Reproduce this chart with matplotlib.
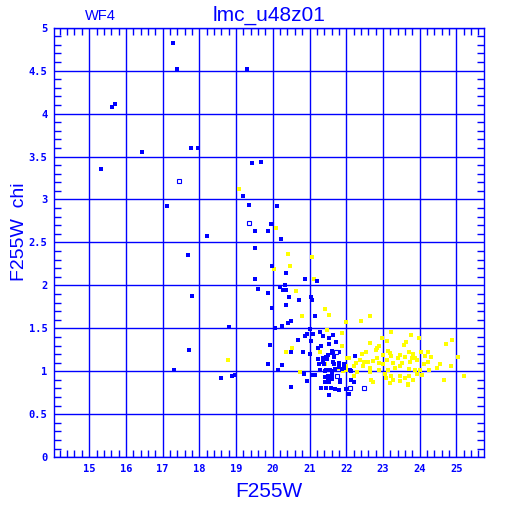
import matplotlib
matplotlib.use('Agg')
import matplotlib.pyplot as plt
from matplotlib.ticker import MultipleLocator, FuncFormatter

# --- data ---
blue_x = [17.27, 17.38, 19.29, 15.61, 15.70, 16.44, 17.76, 17.96, 15.31, 19.20,
          19.43, 19.67, 19.35, 17.11, 20.11, 19.95, 19.52, 19.87, 20.22, 18.21,
          19.52, 17.68, 19.99, 20.36, 19.52, 19.60, 17.80, 19.87, 19.98, 20.87,
          21.20, 20.19, 20.27, 20.35, 20.32, 20.43, 20.70, 21.03, 21.06, 20.37,
          21.14, 18.81, 17.72, 18.59, 18.88, 18.98, 17.31, 20.49, 20.41, 20.24,
          20.06, 21.02, 21.28, 20.92, 21.09, 20.89, 21.36, 21.53, 20.69, 21.05,
          21.32, 19.92, 21.22, 20.49, 20.81, 21.02, 21.50, 21.37, 21.24, 21.48,
          19.87, 20.24, 20.15, 21.37, 21.27, 21.39, 21.46, 21.29, 21.43, 20.85,
          21.07, 21.16, 21.50, 20.93, 21.43, 21.42, 21.46, 21.54, 20.49, 21.32,
          21.45, 21.52, 21.65, 21.54, 21.73, 21.61, 21.79, 21.60, 21.66, 21.44,
          22.25, 21.63, 21.81, 21.67, 21.93, 21.80, 21.56, 21.70, 21.88, 21.94,
          21.47, 21.60, 22.10, 22.14, 21.60, 21.50, 21.60, 21.82, 21.82, 22.14,
          22.22, 21.58, 21.69, 21.80, 22.00, 21.53, 22.08]
blue_y = [4.82, 4.52, 4.52, 4.08, 4.11, 3.55, 3.60, 3.60, 3.36, 3.04,
          3.42, 3.44, 2.93, 2.92, 2.92, 2.72, 2.63, 2.63, 2.54, 2.57,
          2.44, 2.35, 2.22, 2.14, 2.07, 1.96, 1.88, 1.91, 1.74, 2.08,
          2.05, 1.98, 1.95, 1.95, 2.00, 1.86, 1.83, 1.86, 1.83, 1.77,
          1.64, 1.52, 1.25, 0.92, 0.95, 0.96, 1.02, 1.58, 1.56, 1.53,
          1.50, 1.49, 1.46, 1.43, 1.43, 1.41, 1.41, 1.39, 1.36, 1.35,
          1.30, 1.31, 1.27, 1.22, 1.22, 1.20, 1.19, 1.15, 1.14, 1.14,
          1.08, 1.07, 1.02, 1.11, 1.08, 1.08, 1.02, 1.02, 1.00, 0.97,
          0.96, 0.96, 0.95, 0.89, 0.93, 0.88, 0.87, 0.88, 0.82, 0.81,
          0.80, 0.72, 1.42, 1.32, 1.34, 1.24, 1.22, 1.21, 1.17, 1.17,
          1.18, 1.11, 1.10, 1.08, 1.08, 1.05, 1.02, 1.03, 1.03, 1.04,
          1.01, 1.00, 1.02, 1.00, 0.96, 0.91, 0.91, 0.90, 0.88, 0.90,
          0.88, 0.81, 0.79, 0.78, 0.79, 0.72, 0.74]

# hollow blue squares
open_x = [17.45, 19.36, 21.71, 21.76, 22.11, 22.47]
open_y = [3.22, 2.73, 1.22, 0.94, 0.80, 0.80]

yellow_x = [19.09, 20.09, 20.41, 20.47, 20.03, 18.78, 21.08, 21.12, 20.63, 21.42,
            21.52, 20.80, 21.48, 20.52, 20.36, 21.29, 21.42, 20.74, 22.65, 22.41,
            22.00, 21.88, 23.23, 22.98, 23.75, 23.98, 24.88, 24.72, 22.65, 23.63,
            23.57, 21.89, 22.89, 22.85, 23.15, 23.70, 22.42, 22.99, 23.20, 23.47,
            23.83, 24.03, 24.22, 24.31, 24.14, 23.87, 23.78, 23.59, 23.40, 23.21,
            22.83, 22.58, 22.38, 22.07, 22.27, 22.49, 22.73, 22.89, 23.10, 23.01,
            23.28, 23.53, 23.73, 23.92, 24.13, 24.56, 24.85, 24.47, 24.24, 24.01,
            23.87, 23.72, 23.47, 23.34, 23.14, 22.88, 22.66, 22.45, 22.21, 22.00,
            21.79, 22.03, 22.30, 22.65, 23.06, 23.22, 23.47, 23.72, 23.92, 24.07,
            23.61, 23.27, 23.08, 22.67, 22.73, 23.19, 23.47, 23.68, 24.65, 25.20,
            22.21, 21.92, 25.05, 23.67, 23.81, 24.23, 23.11, 22.82, 22.02, 22.55]
yellow_y = [3.12, 2.67, 2.36, 2.22, 2.19, 1.13, 2.33, 2.07, 1.93, 1.73,
            1.65, 1.64, 1.48, 1.27, 1.22, 1.22, 1.09, 0.99, 1.64, 1.59,
            1.57, 1.45, 1.46, 1.39, 1.42, 1.39, 1.37, 1.32, 1.33, 1.34,
            1.31, 1.29, 1.30, 1.27, 1.24, 1.23, 1.20, 1.19, 1.21, 1.19,
            1.20, 1.22, 1.22, 1.17, 1.18, 1.16, 1.16, 1.17, 1.15, 1.18,
            1.15, 1.11, 1.13, 1.15, 1.10, 1.11, 1.12, 1.10, 1.13, 1.08,
            1.10, 1.10, 1.11, 1.13, 1.09, 1.08, 1.06, 1.04, 1.02, 1.01,
            1.01, 1.03, 1.06, 1.04, 1.02, 1.01, 1.04, 1.06, 1.06, 1.06,
            1.04, 1.01, 0.99, 0.99, 0.97, 0.95, 0.95, 0.94, 0.97, 0.96,
            0.92, 0.90, 0.92, 0.90, 0.87, 0.86, 0.89, 0.84, 0.90, 0.94,
            0.95, 1.00, 1.17, 0.85, 0.90, 1.11, 1.35, 1.25, 1.15, 1.22]

BLUE = '#0000ff'
YELLOW = '#ffff00'
LABEL_FONT = 'Liberation Sans'

fig = plt.figure(figsize=(5.12, 5.12), dpi=100)
ax = fig.add_axes([0.106, 0.107, 0.840, 0.839])

ax.plot(yellow_x, yellow_y, 's', color=YELLOW, ms=2.3, mew=0, zorder=3)
ax.plot(blue_x, blue_y, 's', color=BLUE, ms=2.3, mew=0, zorder=4)
ax.plot(open_x, open_y, 's', mfc='white', mec=BLUE, ms=3.3, mew=0.8, zorder=4)

ax.set_xlim(14.05, 25.76)
ax.set_ylim(0, 5)

ax.xaxis.set_major_locator(MultipleLocator(1))
ax.xaxis.set_minor_locator(MultipleLocator(0.2))
ax.yaxis.set_major_locator(MultipleLocator(0.5))
ax.yaxis.set_minor_locator(MultipleLocator(0.1))
ax.xaxis.set_major_formatter(FuncFormatter(lambda v, p: '%g' % v))
ax.yaxis.set_major_formatter(FuncFormatter(lambda v, p: '%g' % v))

ax.grid(True, which='major', color=BLUE, linewidth=1.0)
ax.tick_params(which='both', direction='in', top=True, right=True, colors=BLUE)
ax.tick_params(which='major', length=0, pad=5)
ax.tick_params(which='minor', length=5, width=1.0)
for spine in ax.spines.values():
    spine.set_color(BLUE)
    spine.set_linewidth(1.0)

for lab in ax.get_xticklabels() + ax.get_yticklabels():
    lab.set_family('DejaVu Sans Mono')
    lab.set_fontweight('bold')
    lab.set_fontsize(7.5)
    lab.set_color(BLUE)

ax.set_xlabel('F255W', color=BLUE, fontsize=15, family=LABEL_FONT, labelpad=6)
fig.text(0.038, 0.548, 'F255W  chi', color=BLUE, fontsize=14, family=LABEL_FONT,
         rotation=90, ha='center', va='center')
fig.text(0.526, 0.970, 'lmc_u48z01', color=BLUE, fontsize=15, family=LABEL_FONT,
         ha='center', va='center')
fig.text(0.196, 0.968, 'WF4', color=BLUE, fontsize=10.5, family=LABEL_FONT,
         ha='center', va='center')

fig.savefig('out.png', dpi=100)
